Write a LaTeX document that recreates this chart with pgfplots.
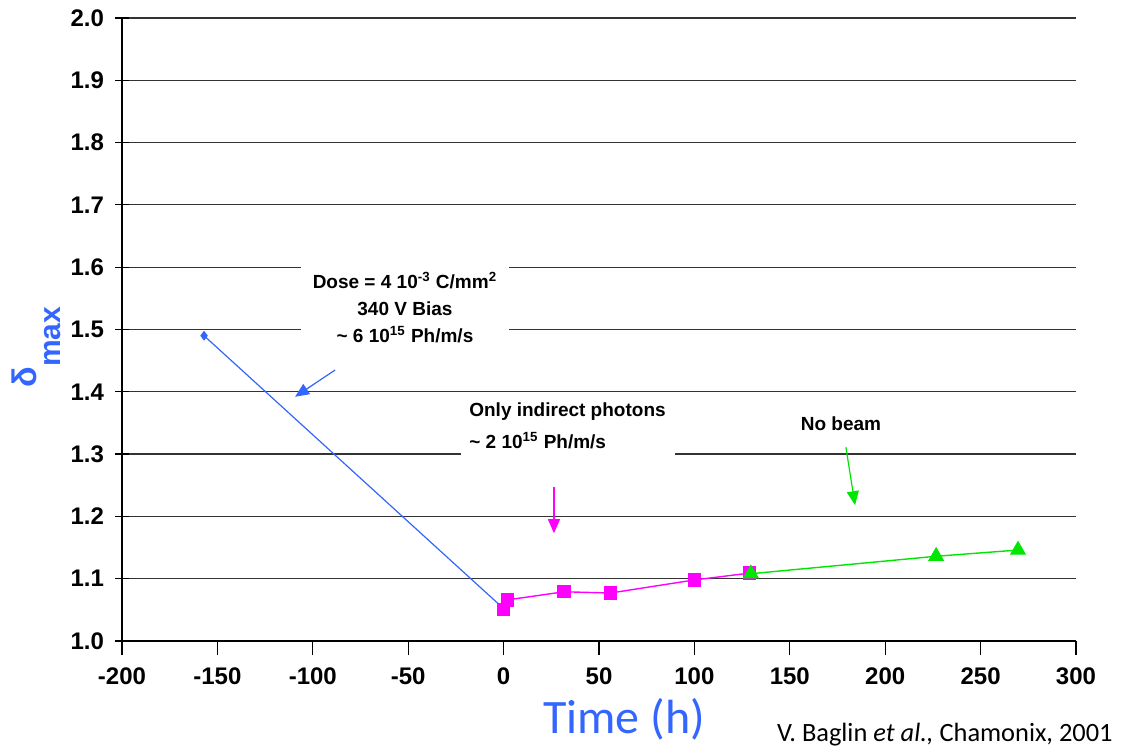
\documentclass[border=0pt]{standalone}
\usepackage{fontspec}
\setmainfont{Liberation Sans}
\newfontfamily\calibri{Carlito}
\usepackage{pgfplots}
\pgfplotsset{compat=1.18}
\usetikzlibrary{arrows.meta}
\definecolor{labelblue}{RGB}{51,102,255}
\definecolor{serblue}{RGB}{51,102,255}
\definecolor{sermag}{RGB}{255,0,255}
\definecolor{sergreen}{RGB}{0,230,0}
\begin{document}
\begin{tikzpicture}
\path[use as bounding box] (0,0) rectangle (564pt,377pt);
\begin{axis}[
  at={(61pt,56.5pt)}, anchor=south west,
  width=477pt, height=311.5pt, scale only axis,
  xmin=-200, xmax=300, ymin=1, ymax=2,
  axis x line*=bottom, axis y line*=left,
  axis line style={black, line width=0.8pt, -},
  xtick={-200,-150,...,300},
  ytick={1,1.1,...,2.01},
  xtick align=outside, ytick align=center,
  major tick length=7pt,
  tick style={black, line width=0.6pt},
  ymajorgrids, grid style={black!80, line width=0.6pt},
  /pgf/number format/assume math mode=true,
  yticklabel style={/pgf/number format/fixed, /pgf/number format/fixed zerofill, /pgf/number format/precision=1, xshift=-2pt},
  xticklabel style={yshift=-3pt},
  tick label style={font=\fontsize{12}{14}\selectfont\bfseries},
  clip=false,
]
% dose period
\addplot[serblue, line width=0.6pt, mark=diamond*, mark size=2pt, mark options={fill=serblue}]
  coordinates {(-157,1.490) (0,1.052)};
% indirect photons only
\addplot[sermag, line width=0.7pt, mark=square*, mark size=3pt, mark options={fill=sermag}]
  coordinates {(0,1.051) (2,1.066) (31.7,1.079) (56,1.077) (100,1.098) (129,1.109)};
% no beam
\addplot[sergreen, line width=0.7pt, mark=triangle*, mark size=4pt, mark options={fill=sergreen}]
  coordinates {(129.6,1.108) (226.7,1.136) (269.6,1.146)};

% annotations
\node[fill=white, inner xsep=6pt, inner ysep=4pt, minimum width=100pt, align=center,
      font=\fontsize{9.5}{13.5}\selectfont\bfseries]
  at (axis cs:-51.7,1.535)
  {Dose = 4 10\textsuperscript{-3} C/mm\textsuperscript{2}\\340 V Bias\\\textasciitilde\ 6 10\textsuperscript{15} Ph/m/s};
\node[fill=white, anchor=north west, inner xsep=3pt, inner ysep=3pt, minimum width=107pt, align=left,
      font=\fontsize{9.5}{16}\selectfont\bfseries]
  at (axis cs:-22.8,1.392)
  {Only indirect photons\\\textasciitilde\ 2 10\textsuperscript{15} Ph/m/s};
\node[font=\fontsize{9.5}{12}\selectfont\bfseries] at (axis cs:176.8,1.348) {No beam};

\draw[serblue, line width=0.6pt, -{Triangle[length=7pt,width=6pt]}]
  (axis cs:-88.3,1.435) -- (axis cs:-109.3,1.392);
\draw[sermag, line width=0.6pt, -{Triangle[length=7pt,width=6pt]}]
  (axis cs:26.4,1.247) -- (axis cs:26.4,1.173);
\draw[sergreen, line width=0.6pt, -{Triangle[length=7pt,width=6pt]}]
  (axis cs:179.4,1.311) -- (axis cs:184.2,1.218);
\end{axis}
\node[rotate=90, text=labelblue, inner sep=0pt, font=\bfseries] at (18pt,203.5pt)
  {\fontsize{17}{19}\selectfont δ\fontsize{15}{17}\selectfont\raisebox{-12pt}{max}};
\node[anchor=base, text=labelblue, font=\calibri\fontsize{24}{26}\selectfont] at (312pt,10.5pt) {Time (h)};
\node[anchor=base east, font=\calibri\fontsize{13.2}{15}\selectfont, inner sep=0pt] at (556.5pt,6pt)
  {V. Baglin \textit{et al.,} Chamonix, 2001};
\end{tikzpicture}
\end{document}
